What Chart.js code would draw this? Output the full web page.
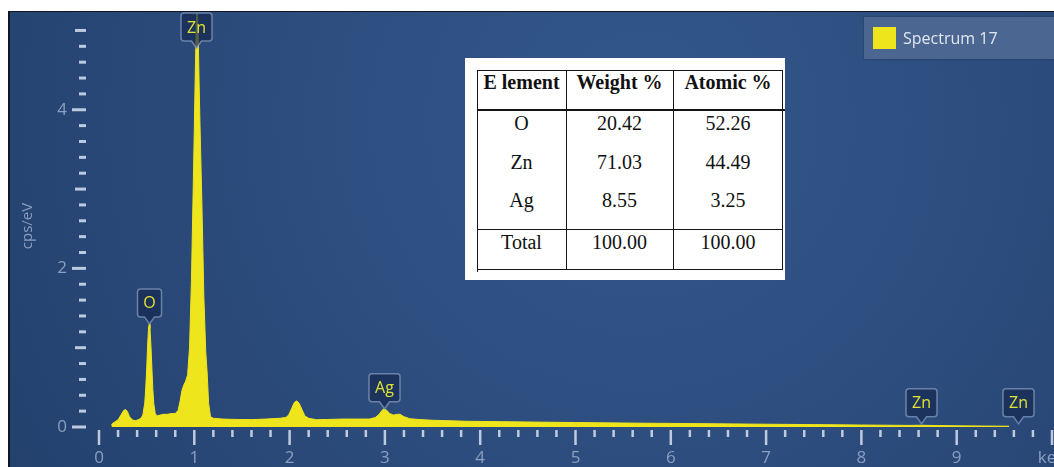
<!DOCTYPE html>
<html>
<head>
<meta charset="utf-8">
<title>EDS spectrum – Spectrum 17</title>
<script src="https://cdn.jsdelivr.net/npm/chart.js@4.4.1/dist/chart.umd.min.js"></script>
<style>
  html, body { margin: 0; padding: 0; background: #ffffff; overflow: hidden; }
  #stage { position: relative; width: 1054px; height: 467px; }
  #spectrum { position: absolute; left: 0; top: 0; }
  #legend { position: absolute; left: 864px; top: 17px; width: 200px; height: 42px;
            background: #4b6791; box-shadow: 0 0 2px rgba(0,0,0,0.35);
            font-family: 'Open Sans', 'Noto Sans', sans-serif; }
  #legend .swatch { position: absolute; left: 9px; top: 10px; width: 23px; height: 22px; background: #efe51c; }
  #legend .name { position: absolute; left: 39px; top: 0; line-height: 42px; font-size: 16px;
                  color: #e2e7f0; white-space: nowrap; }
  #composition { position: absolute; left: 465px; top: 58px; width: 320px; height: 222px; background: #ffffff;
                 font-family: 'Liberation Serif', 'Times New Roman', serif; color: #111; }
  #composition .rule { position: absolute; background: #151515; }
  #composition .cell { position: absolute; height: 24px; line-height: 24px; text-align: center;
                       font-size: 20px; white-space: nowrap; }
  #composition .head { font-weight: bold; }
</style>
</head>
<body>
<div id="stage">
  <canvas id="spectrum" width="1054" height="467"></canvas>
  <div id="composition"></div>
  <div id="legend"><span class="swatch"></span><span class="name"></span></div>
</div>
<script>
// ---- spectrum (energy in keV, intensity in cps/eV) ----
const energyKeV = [
  0.13, 0.16, 0.20, 0.23, 0.26, 0.28, 0.30, 0.32, 0.35, 0.38, 0.41, 0.44, 0.46, 0.48, 0.49,
  0.50, 0.51, 0.52, 0.527, 0.535, 0.545, 0.555, 0.565, 0.575, 0.59, 0.61, 0.64, 0.68, 0.72,
  0.76, 0.80, 0.83, 0.85, 0.87, 0.89, 0.91, 0.93, 0.95, 0.97, 0.99, 1.00, 1.01, 1.02, 1.03,
  1.04, 1.05, 1.06, 1.08, 1.10, 1.12, 1.135, 1.15, 1.17, 1.20, 1.30, 1.45, 1.60, 1.75, 1.90,
  1.96, 1.99, 2.02, 2.05, 2.075, 2.10, 2.13, 2.16, 2.20, 2.28, 2.40, 2.55, 2.70, 2.84, 2.90,
  2.94, 2.97, 2.99, 3.02, 3.05, 3.09, 3.13, 3.16, 3.20, 3.26, 3.35, 3.50, 3.70, 3.86, 4.00,
  4.50, 5.00, 5.50, 6.00, 6.50, 7.00, 7.50, 8.00, 8.50, 8.63, 8.80, 9.00, 9.30, 9.55
];
const countsPerEv = [
  0.03, 0.06, 0.09, 0.15, 0.21, 0.22, 0.19, 0.13, 0.09, 0.08, 0.09, 0.11, 0.15, 0.30, 0.48,
  0.72, 1.02, 1.25, 1.30, 1.24, 1.02, 0.74, 0.47, 0.29, 0.17, 0.14, 0.15, 0.16, 0.16,
  0.17, 0.17, 0.21, 0.32, 0.46, 0.53, 0.58, 0.66, 1.00, 1.85, 3.10, 3.75, 4.45, 5.05, 5.30,
  5.00, 4.35, 3.80, 2.80, 1.65, 0.95, 0.68, 0.30, 0.13, 0.11, 0.10, 0.095, 0.093, 0.10, 0.11,
  0.12, 0.15, 0.23, 0.31, 0.33, 0.30, 0.22, 0.14, 0.11, 0.092, 0.095, 0.10, 0.10, 0.10, 0.12,
  0.16, 0.21, 0.23, 0.21, 0.17, 0.15, 0.16, 0.16, 0.13, 0.105, 0.095, 0.085, 0.078, 0.072, 0.070,
  0.063, 0.056, 0.050, 0.045, 0.040, 0.035, 0.030, 0.025, 0.020, 0.022, 0.018, 0.015, 0.012, 0.010
];
const seriesName = 'Spectrum 17';

// ---- element line markers ----
const tagElements = ['Zn', 'O', 'Ag', 'Zn', 'Zn'];
const tagEnergies = [1.02, 0.527, 2.99, 8.63, 9.64];
const tagLevels   = [5.30, 1.30, 0.23, 0.04, 0.04];

// ---- axes ----
const xAxisLabels = ['0', '1', '2', '3', '4', '5', '6', '7', '8', '9', 'keV'];
const yLabelValues = [0, 2, 4];
const yTitle = 'cps/eV';

// ---- quantification table ----
const tableHeader = ['E lement', 'Weight %', 'Atomic %'];
const elementNames = ['O', 'Zn', 'Ag'];
const weightPercent = ['20.42', '71.03', '8.55'];
const atomicPercent = ['52.26', '44.49', '3.25'];
const totalRow = ['Total', '100.00', '100.00'];

// ---------- table card ----------
(function buildTable() {
  const card = document.getElementById('composition');
  const colEdges = [12, 101, 208, 318];
  const rules = [
    [12, 12, 306, 1],   // top
    [12, 12, 1, 202],   // left
    [317, 12, 1, 200],  // right
    [101, 12, 1, 200],  // column separators
    [208, 12, 1, 200],
    [12, 51, 308, 2],   // under header
    [12, 171, 306, 1],  // above total
    [12, 211, 305, 1]   // bottom
  ];
  rules.forEach(([x, y, w, h]) => {
    const d = document.createElement('div');
    d.className = 'rule';
    d.style.cssText = `left:${x}px;top:${y}px;width:${w}px;height:${h}px`;
    card.appendChild(d);
  });
  const put = (text, col, centerY, head) => {
    const d = document.createElement('div');
    d.className = 'cell' + (head ? ' head' : '');
    d.textContent = text;
    d.style.left = colEdges[col] + 'px';
    d.style.width = (colEdges[col + 1] - colEdges[col]) + 'px';
    d.style.top = (centerY - 12) + 'px';
    card.appendChild(d);
  };
  tableHeader.forEach((t, c) => put(t, c, 24, true));
  const bodyRows = [65, 104, 142];
  elementNames.forEach((el, r) => {
    put(el, 0, bodyRows[r]);
    put(weightPercent[r], 1, bodyRows[r]);
    put(atomicPercent[r], 2, bodyRows[r]);
  });
  totalRow.forEach((t, c) => put(t, c, 184));
})();

document.querySelector('#legend .name').textContent = seriesName;

// ---------- chart ----------
const TICK_STEP = 0.2;
const isMultiple = (v, m) => Math.abs(v / m - Math.round(v / m)) < 1e-6;
const AXIS_TEXT = '#8b9fc0';

const panelBackground = {
  id: 'panelBackground',
  beforeDraw(chart) {
    const c = chart.ctx, w = chart.width, h = chart.height;
    c.save();
    c.fillStyle = '#ffffff';
    c.fillRect(0, 0, w, h);
    c.fillStyle = '#10151f';
    c.fillRect(8, 11, w - 8, h - 11);
    const g = c.createRadialGradient(640, 120, 0, 640, 120, 760);
    g.addColorStop(0, '#33578b');
    g.addColorStop(0.5, '#2c4c7d');
    g.addColorStop(1, '#23406c');
    c.fillStyle = g;
    c.fillRect(10, 12, w - 10, h - 12);
    c.restore();
  }
};

const axisMarks = {
  id: 'axisMarks',
  afterDraw(chart) {
    const c = chart.ctx, xs = chart.scales.x, ys = chart.scales.y, area = chart.chartArea;
    c.save();
    c.fillStyle = 'rgba(204,213,230,0.92)';
    const yEdge = area.left - 13;
    ys.ticks.forEach(t => {
      if (!isMultiple(t.value, TICK_STEP)) return;
      const py = ys.getPixelForValue(t.value);
      const len = isMultiple(t.value, 2) ? 14 : isMultiple(t.value, 1) ? 11 : 7;
      c.fillRect(yEdge - len, py - 1.5, len, 3);
    });
    const xTop = area.bottom + 3;
    xs.ticks.forEach(t => {
      if (!isMultiple(t.value, TICK_STEP)) return;
      const px = xs.getPixelForValue(t.value);
      c.fillRect(px - 1.25, xTop, 2.5, isMultiple(t.value, 1) ? 15 : 7);
    });
    c.translate(28, 226);
    c.rotate(-Math.PI / 2);
    c.font = '15px "Open Sans"';
    c.fillStyle = AXIS_TEXT;
    c.textAlign = 'center';
    c.textBaseline = 'middle';
    c.fillText(yTitle, 0, 0);
    c.restore();
  }
};

const lineTags = {
  id: 'lineTags',
  afterDatasetsDraw(chart) {
    const c = chart.ctx, xs = chart.scales.x, ys = chart.scales.y, area = chart.chartArea;
    c.save();
    c.font = '16px "Open Sans"';
    tagElements.forEach((name, i) => {
      const cx = Math.round(xs.getPixelForValue(tagEnergies[i])) + 0.5;
      const tip = ys.getPixelForValue(tagLevels[i]);
      const w = Math.max(24, Math.round(c.measureText(name).width + 12));
      const h = 28, notch = 7, r = 3;
      const top = Math.max(area.top, tip - notch - h);
      const left = cx - w / 2, bottom = top + h;
      c.beginPath();
      c.moveTo(left + r, top);
      c.lineTo(left + w - r, top);
      c.quadraticCurveTo(left + w, top, left + w, top + r);
      c.lineTo(left + w, bottom - r);
      c.quadraticCurveTo(left + w, bottom, left + w - r, bottom);
      c.lineTo(cx + 5, bottom);
      c.lineTo(cx, bottom + notch);
      c.lineTo(cx - 5, bottom);
      c.lineTo(left + r, bottom);
      c.quadraticCurveTo(left, bottom, left, bottom - r);
      c.lineTo(left, top + r);
      c.quadraticCurveTo(left, top, left + r, top);
      c.closePath();
      c.fillStyle = 'rgba(22,42,82,0.72)';
      c.fill();
      c.strokeStyle = 'rgba(125,146,182,0.8)';
      c.lineWidth = 1.5;
      c.stroke();
      c.fillStyle = '#e2e234';
      c.textAlign = 'center';
      c.textBaseline = 'middle';
      c.fillText(name, cx, top + h / 2 + 1);
    });
    c.restore();
  }
};

new Chart(document.getElementById('spectrum'), {
  type: 'line',
  data: {
    datasets: [{
      label: seriesName,
      data: energyKeV.map((e, i) => ({ x: e, y: countsPerEv[i] })),
      fill: 'origin',
      backgroundColor: '#efe51c',
      borderColor: '#efe51c',
      borderWidth: 1,
      pointRadius: 0,
      tension: 0
    }]
  },
  options: {
    responsive: false,
    animation: false,
    devicePixelRatio: 1,
    layout: { padding: { top: 13, right: 2, left: 0, bottom: 0 } },
    plugins: { legend: { display: false }, tooltip: { enabled: false } },
    scales: {
      x: {
        type: 'linear', min: 0, max: 10,
        afterFit(s) { s.height = 40; s.paddingLeft = 0; s.paddingRight = 0; },
        border: { display: false },
        grid: { drawOnChartArea: false, drawTicks: true, tickLength: 15, color: 'rgba(0,0,0,0)' },
        ticks: {
          stepSize: TICK_STEP, autoSkip: false, maxRotation: 0, minRotation: 0, padding: 6,
          color: AXIS_TEXT, font: { family: 'Open Sans', size: 17 },
          callback: v => isMultiple(v, 1) ? (xAxisLabels[Math.round(v)] ?? '') : ''
        }
      },
      y: {
        type: 'linear', min: 0, max: 5.22,
        afterFit(s) { s.width = 99; s.paddingTop = 0; s.paddingBottom = 0; },
        border: { display: false },
        grid: { drawOnChartArea: false, drawTicks: true, tickLength: 24, color: 'rgba(0,0,0,0)' },
        ticks: {
          stepSize: TICK_STEP, autoSkip: false, padding: 8,
          color: AXIS_TEXT, font: { family: 'Open Sans', size: 17 },
          callback: v => yLabelValues.find(y => Math.abs(y - v) < 1e-6) !== undefined ? String(Math.round(v)) : ''
        }
      }
    }
  },
  plugins: [panelBackground, axisMarks, lineTags]
});
</script>
</body>
</html>
